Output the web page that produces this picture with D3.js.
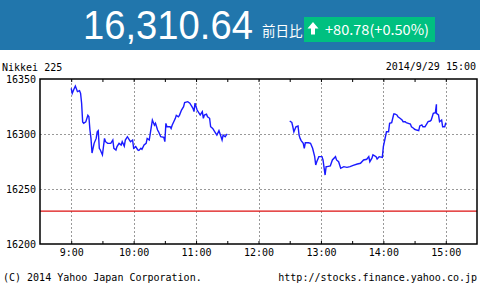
<!DOCTYPE html>
<html>
<head>
<meta charset="utf-8">
<script src="https://cdn.jsdelivr.net/npm/d3@7"></script>
<style>
body { margin: 0; background: #fff; }
</style>
</head>
<body>
<div id="chart"></div>
<script>
// header numbers
let lastPrice = "16,310.64";
let changeText = "+80.78(+0.50%)";
let prevClose = 16229.86;

// morning session 9:00 - 11:30
let amTimes = ["9:00","9:01","9:03","9:04","9:06","9:08","9:09","9:10","9:11","9:12","9:14","9:16","9:17","9:18","9:19","9:20","9:22","9:24","9:25","9:26","9:27","9:28","9:30","9:32","9:33","9:35","9:38","9:40","9:41","9:43","9:44","9:46","9:48","9:49","9:51","9:52","9:54","9:56","9:57","9:59","10:00","10:02","10:04","10:05","10:07","10:08","10:10","10:12","10:13","10:15","10:16","10:18","10:20","10:21","10:23","10:24","10:26","10:29","10:30","10:31","10:32","10:35","10:36","10:37","10:40","10:41","10:43","10:44","10:46","10:48","10:49","10:52","10:54","10:55","10:57","10:58","10:59","11:01","11:03","11:04","11:06","11:07","11:08","11:10","11:11","11:13","11:14","11:16","11:18","11:20","11:22","11:24","11:25","11:26","11:28","11:29","11:30"];
let amValues = [16341.5,16337,16341.5,16343.6,16338.5,16339.4,16337,16328,16311,16309.7,16311,16317,16315.7,16303.6,16296,16282.7,16291.5,16296,16302,16303,16287,16285.5,16281,16296,16293,16291.5,16291.5,16294.5,16287,16285.5,16288.5,16291.5,16290,16293,16289,16294.5,16297.5,16294.5,16293,16294.5,16287,16288.5,16285.5,16285,16287,16286,16290,16291.5,16296,16294.5,16300.6,16312.7,16308,16309.7,16303.6,16302,16297.5,16297,16293,16309.7,16306.6,16306.6,16305,16308,16314,16317,16315.7,16317,16321.8,16324.8,16328.5,16329.4,16328,16326.4,16323.4,16320.3,16328,16321.8,16318.8,16317.3,16320.3,16314.3,16317.3,16318,16315.7,16314.3,16306.6,16305,16302,16299,16303,16297.5,16294.5,16299,16297.5,16299,16300];

// afternoon session 12:30 - 15:00
let pmTimes = ["12:30","12:32","12:33","12:34","12:36","12:38","12:39","12:40","12:41","12:43","12:44","12:45","12:48","12:50","12:52","12:54","12:55","12:56","12:58","13:01","13:02","13:04","13:05","13:06","13:09","13:11","13:14","13:15","13:17","13:19","13:22","13:25","13:28","13:31","13:35","13:38","13:41","13:44","13:46","13:47","13:49","13:50","13:53","13:54","13:56","13:59","14:00","14:02","14:03","14:05","14:06","14:08","14:10","14:11","14:13","14:14","14:16","14:18","14:19","14:21","14:22","14:24","14:26","14:27","14:29","14:30","14:32","14:34","14:35","14:37","14:38","14:40","14:42","14:43","14:45","14:46","14:48","14:50","14:51","14:51","14:53","14:54","14:56","14:57","14:59","15:00"];
let pmValues = [16311.8,16310.6,16306.6,16302,16306.6,16307.3,16299,16296,16294,16291.5,16287,16292,16292,16291.5,16287,16279.4,16271.8,16274.8,16279.4,16279.4,16276.4,16262.7,16270.3,16270.3,16271,16276.4,16279.4,16276.4,16274.8,16268.8,16270.3,16269.7,16270.3,16271.5,16272.7,16273.4,16276.4,16277,16279.4,16274.8,16278,16281,16279.4,16277.3,16279.4,16278.8,16288.5,16297.5,16302,16302,16309.7,16310.3,16318.2,16318.2,16317.3,16315.7,16314.3,16312.7,16311.2,16311.2,16310.3,16309.7,16309,16306.6,16305.2,16304.3,16303.6,16303,16307.3,16308.2,16306.6,16306.6,16309.7,16311.2,16311.8,16312.7,16318.8,16319.4,16327,16318.8,16317.3,16311.2,16312.7,16306.6,16306.6,16310.3];

let yTicks = [16200, 16250, 16300, 16350];
let hourTicks = ["9:00","10:00","11:00","12:00","13:00","14:00","15:00"];

let width = 480;
let height = 290;
let mono = "'DejaVu Sans Mono', monospace";

let parseTime = d3.timeParse("%H:%M");

let svg = d3.select("#chart")
	.append("svg")
	.attr("width", width)
	.attr("height", height);

// header band
svg.append("rect")
	.attr("x", 0).attr("y", 0)
	.attr("width", width).attr("height", 50)
	.attr("fill", "#2176ac");

svg.append("text")
	.attr("x", 83).attr("y", 39)
	.attr("font-family", "'Liberation Sans', Arial, sans-serif")
	.attr("font-size", 41)
	.attr("textLength", 170)
	.attr("lengthAdjust", "spacingAndGlyphs")
	.attr("fill", "#fff")
	.text(lastPrice);

svg.append("text")
	.attr("x", 262).attr("y", 36)
	.attr("font-family", "'Noto Sans CJK JP', sans-serif")
	.attr("font-size", 13.5)
	.attr("fill", "#fff")
	.text("前日比");

svg.append("rect")
	.attr("x", 304).attr("y", 17)
	.attr("width", 131).attr("height", 25)
	.attr("fill", "#00c080");

svg.append("path")
	.attr("d", "M313,22 L318.5,28.5 L315,28.5 L315,34.5 L311,34.5 L311,28.5 L307.5,28.5 Z")
	.attr("fill", "#fff");

svg.append("text")
	.attr("x", 325).attr("y", 35)
	.attr("font-family", "'Noto Sans CJK JP', sans-serif")
	.attr("font-size", 14)
	.attr("textLength", 104)
	.attr("lengthAdjust", "spacingAndGlyphs")
	.attr("fill", "#fff")
	.text(changeText);

// scales
let xScale = d3.scaleTime()
	.domain([parseTime("8:30"), parseTime("15:30")])
	.range([40, 477]);

let yScale = d3.scaleLinear()
	.domain([16200, 16350])
	.range([244, 79]);

// grid
let grid = svg.append("g")
	.attr("stroke", "#999")
	.attr("stroke-width", 1)
	.attr("stroke-dasharray", "2,2");

grid.selectAll(".vg")
	.data(hourTicks)
	.enter()
	.append("line")
	.attr("x1", d => Math.round(xScale(parseTime(d))) + 0.5)
	.attr("x2", d => Math.round(xScale(parseTime(d))) + 0.5)
	.attr("y1", 79).attr("y2", 244);

grid.selectAll(".hg")
	.data([16250, 16300])
	.enter()
	.append("line")
	.attr("x1", 40).attr("x2", 477)
	.attr("y1", d => Math.round(yScale(d)) + 0.5)
	.attr("y2", d => Math.round(yScale(d)) + 0.5);

// previous close
svg.append("line")
	.attr("x1", 40).attr("x2", 477)
	.attr("y1", yScale(prevClose)).attr("y2", yScale(prevClose))
	.attr("stroke", "#dd1111")
	.attr("stroke-width", 1.3);

// price line
let line = d3.line()
	.x(d => xScale(d[0]))
	.y(d => yScale(d[1]));

let sessions = [
	amTimes.map((t, i) => [parseTime(t), amValues[i]]),
	pmTimes.map((t, i) => [parseTime(t), pmValues[i]])
];

svg.selectAll(".price")
	.data(sessions)
	.enter()
	.append("path")
	.attr("d", line)
	.attr("fill", "none")
	.attr("stroke", "#1a1aff")
	.attr("stroke-width", 1.4)
	.attr("stroke-linejoin", "miter");

// half hour ticks
let halfHours = d3.timeMinute.every(30).range(parseTime("9:00"), parseTime("15:01"));

svg.append("g")
	.attr("transform", "translate(0,79)")
	.call(d3.axisBottom(xScale).tickValues(halfHours).tickSize(3).tickFormat(""))
	.call(g => g.select(".domain").remove());

svg.append("g")
	.attr("transform", "translate(0,244)")
	.call(d3.axisTop(xScale).tickValues(halfHours).tickSize(3).tickFormat(""))
	.call(g => g.select(".domain").remove());

// frame
svg.append("rect")
	.attr("x", 40).attr("y", 79)
	.attr("width", 437).attr("height", 165)
	.attr("fill", "none")
	.attr("stroke", "#000")
	.attr("stroke-width", 1.5);

// axes labels
svg.append("g")
	.attr("transform", "translate(40,0)")
	.call(d3.axisLeft(yScale).tickValues(yTicks).tickSize(0).tickPadding(4).tickFormat(d3.format("d")))
	.call(g => g.select(".domain").remove())
	.selectAll("text")
	.attr("font-family", mono)
	.attr("font-size", 10)
	.attr("fill", "#000");

svg.append("g")
	.attr("transform", "translate(0,244)")
	.call(d3.axisBottom(xScale).tickValues(hourTicks.map(parseTime)).tickSize(0).tickPadding(5).tickFormat(d3.timeFormat("%-H:%M")))
	.call(g => g.select(".domain").remove())
	.selectAll("text")
	.attr("font-family", mono)
	.attr("font-size", 10)
	.attr("fill", "#000");

// small texts
svg.append("text")
	.attr("x", 2).attr("y", 71)
	.attr("font-family", mono).attr("font-size", 10)
	.text("Nikkei 225");

svg.append("text")
	.attr("x", 476).attr("y", 70)
	.attr("text-anchor", "end")
	.attr("font-family", mono).attr("font-size", 10)
	.text("2014/9/29 15:00");

svg.append("text")
	.attr("x", 3).attr("y", 281)
	.attr("font-family", mono).attr("font-size", 10)
	.text("(C) 2014 Yahoo Japan Corporation.");

svg.append("text")
	.attr("x", 477).attr("y", 281)
	.attr("text-anchor", "end")
	.attr("font-family", mono).attr("font-size", 10)
	.text("http://stocks.finance.yahoo.co.jp");
</script>
</body>
</html>
